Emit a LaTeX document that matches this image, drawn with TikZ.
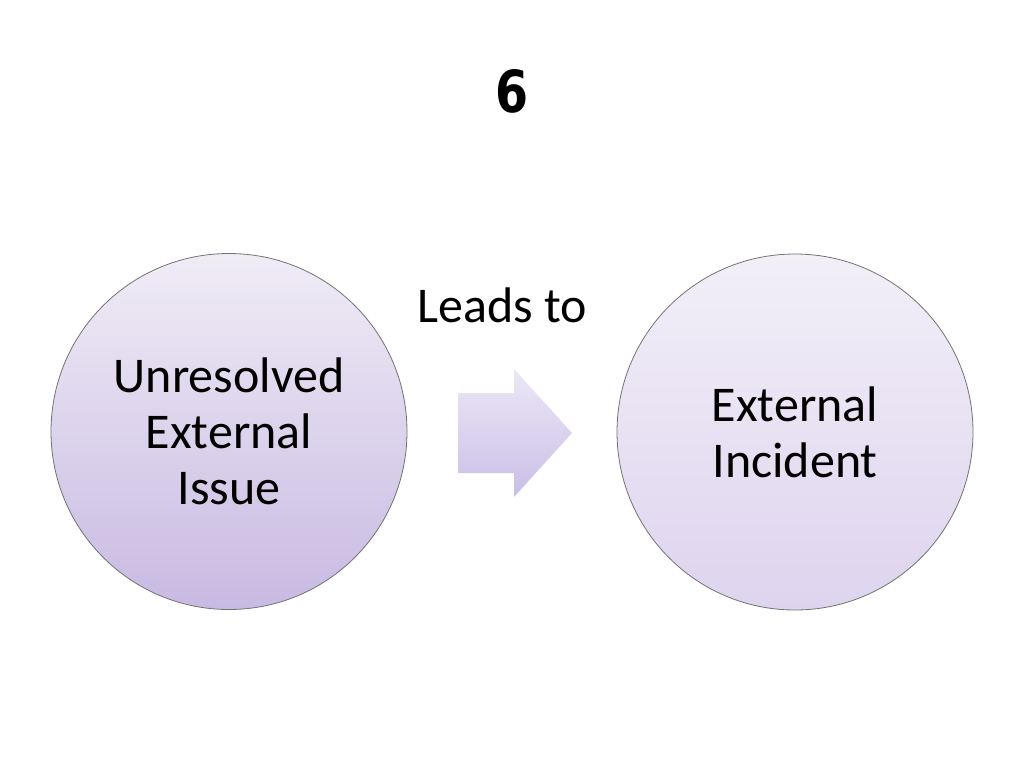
\documentclass[tikz,border=0pt]{standalone}
\usepackage{fontspec}
\setmainfont{Carlito}
\newfontfamily\titlefont{DejaVu Sans}
\begin{document}
\begin{tikzpicture}[x=1pt,y=-1pt,
  bubble/.style={circle, draw=black!55, line width=0.8pt, minimum size=356pt, inner sep=0pt,
    align=center, font=\fontsize{50}{56}\selectfont},
  label/.style={font=\fontsize{50}{56}\selectfont},
]
\useasboundingbox (0,0) rectangle (1024,768);
\fill[white] (0,0) rectangle (1024,768);
\node[anchor=base, inner sep=0pt] (title) at (512,112)
  {\titlefont\bfseries\fontsize{58}{60}\selectfont\scalebox{0.82}[1]{6}};
\node[bubble, top color={rgb,255:red,240;green,236;blue,246}, bottom color={rgb,255:red,200;green,186;blue,226}] (a) at (229,431.5)
  {Unresolved\\External\\Issue};
\node[bubble, top color={rgb,255:red,242;green,239;blue,248}, bottom color={rgb,255:red,222;green,212;blue,238}] (b) at (795,432)
  {External\\Incident};
\node[label, anchor=base, inner sep=0pt] (lead) at (502,322) {Leads to};
\shade[top color={rgb,255:red,236;green,232;blue,246}, bottom color={rgb,255:red,202;green,190;blue,230}]
  (458,393) -- (514,393) -- (514,369) -- (572,433) -- (514,497) -- (514,473) -- (458,473) -- cycle;
\end{tikzpicture}
\end{document}
